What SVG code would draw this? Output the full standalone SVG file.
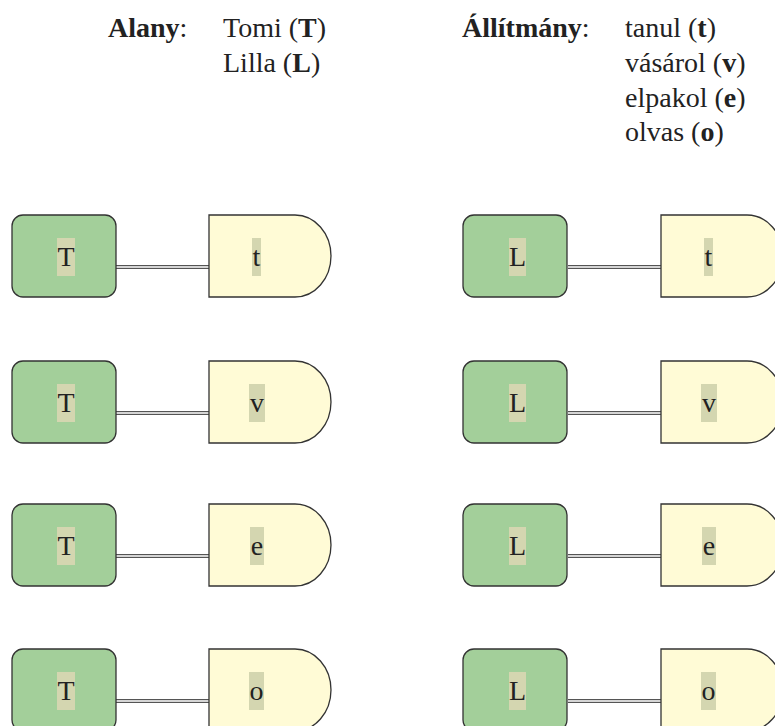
<svg xmlns="http://www.w3.org/2000/svg" width="775" height="726" viewBox="0 0 775 726">
<style>
text{font-family:"Liberation Serif","Times New Roman",serif;font-size:28px;fill:#222}
.b{font-weight:bold}
.subj{fill:#a3cf9a;stroke:#333;stroke-width:1.3}
.pred{fill:#fffbd6;stroke:#333;stroke-width:1.3}
.hl{fill:#d4d6b0}
.lbl{text-anchor:middle}
.co{stroke:#555;stroke-width:4;fill:none}
.ci{stroke:#fff;stroke-width:1.6;fill:none}
</style>
<defs>
<rect id="sbox" class="subj" x="0" y="0" width="104" height="82" rx="11"/>
<path id="pbox" class="pred" d="M0,0 H86 A36,41 0 0 1 86,82 H0 Z"/>
</defs>
<g id="legend">
<text x="108" y="37"><tspan class="b">Alany</tspan>:</text>
<text x="223" y="37">Tomi (<tspan class="b">T</tspan>)</text>
<text x="223" y="72">Lilla (<tspan class="b">L</tspan>)</text>
<text x="462" y="37"><tspan class="b">Állítmány</tspan>:</text>
<text x="625" y="37">tanul (<tspan class="b">t</tspan>)</text>
<text x="625" y="72">vásárol (<tspan class="b">v</tspan>)</text>
<text x="625" y="107">elpakol (<tspan class="b">e</tspan>)</text>
<text x="625" y="141">olvas (<tspan class="b">o</tspan>)</text>
</g>
<g id="connectors">
<path class="co" d="M116,267 H209 M568,267 H661 M116,413 H209 M568,413 H661 M116,556 H209 M568,556 H661 M116,701 H209 M568,701 H661"/>
<path class="ci" d="M116,267 H209 M568,267 H661 M116,413 H209 M568,413 H661 M116,556 H209 M568,556 H661 M116,701 H209 M568,701 H661"/>
</g>
<g id="T1" transform="translate(12,215)"><use href="#sbox"/><rect class="hl" x="45" y="23" width="18" height="38"/><text class="lbl" x="54" y="51">T</text></g>
<g id="t1" transform="translate(209,215)"><use href="#pbox"/><rect class="hl" x="43" y="23" width="9" height="38"/><text class="lbl" x="47.5" y="51">t</text></g>
<g id="L1" transform="translate(463,215)"><use href="#sbox"/><rect class="hl" x="46" y="23" width="17" height="38"/><text class="lbl" x="54.5" y="51">L</text></g>
<g id="t2" transform="translate(661,215)"><use href="#pbox"/><rect class="hl" x="43" y="23" width="9" height="38"/><text class="lbl" x="47.5" y="51">t</text></g>
<g id="T2" transform="translate(12,361)"><use href="#sbox"/><rect class="hl" x="45" y="23" width="18" height="38"/><text class="lbl" x="54" y="51">T</text></g>
<g id="v1" transform="translate(209,361)"><use href="#pbox"/><rect class="hl" x="40" y="23" width="16" height="38"/><text class="lbl" x="48" y="51">v</text></g>
<g id="L2" transform="translate(463,361)"><use href="#sbox"/><rect class="hl" x="46" y="23" width="17" height="38"/><text class="lbl" x="54.5" y="51">L</text></g>
<g id="v2" transform="translate(661,361)"><use href="#pbox"/><rect class="hl" x="40" y="23" width="16" height="38"/><text class="lbl" x="48" y="51">v</text></g>
<g id="T3" transform="translate(12,504)"><use href="#sbox"/><rect class="hl" x="45" y="23" width="18" height="38"/><text class="lbl" x="54" y="51">T</text></g>
<g id="e1" transform="translate(209,504)"><use href="#pbox"/><rect class="hl" x="41" y="23" width="14" height="38"/><text class="lbl" x="48" y="51">e</text></g>
<g id="L3" transform="translate(463,504)"><use href="#sbox"/><rect class="hl" x="46" y="23" width="17" height="38"/><text class="lbl" x="54.5" y="51">L</text></g>
<g id="e2" transform="translate(661,504)"><use href="#pbox"/><rect class="hl" x="41" y="23" width="14" height="38"/><text class="lbl" x="48" y="51">e</text></g>
<g id="T4" transform="translate(12,649)"><use href="#sbox"/><rect class="hl" x="45" y="23" width="18" height="38"/><text class="lbl" x="54" y="51">T</text></g>
<g id="o1" transform="translate(209,649)"><use href="#pbox"/><rect class="hl" x="40" y="23" width="15" height="38"/><text class="lbl" x="47.5" y="51">o</text></g>
<g id="L4" transform="translate(463,649)"><use href="#sbox"/><rect class="hl" x="46" y="23" width="17" height="38"/><text class="lbl" x="54.5" y="51">L</text></g>
<g id="o2" transform="translate(661,649)"><use href="#pbox"/><rect class="hl" x="40" y="23" width="15" height="38"/><text class="lbl" x="47.5" y="51">o</text></g>
</svg>
